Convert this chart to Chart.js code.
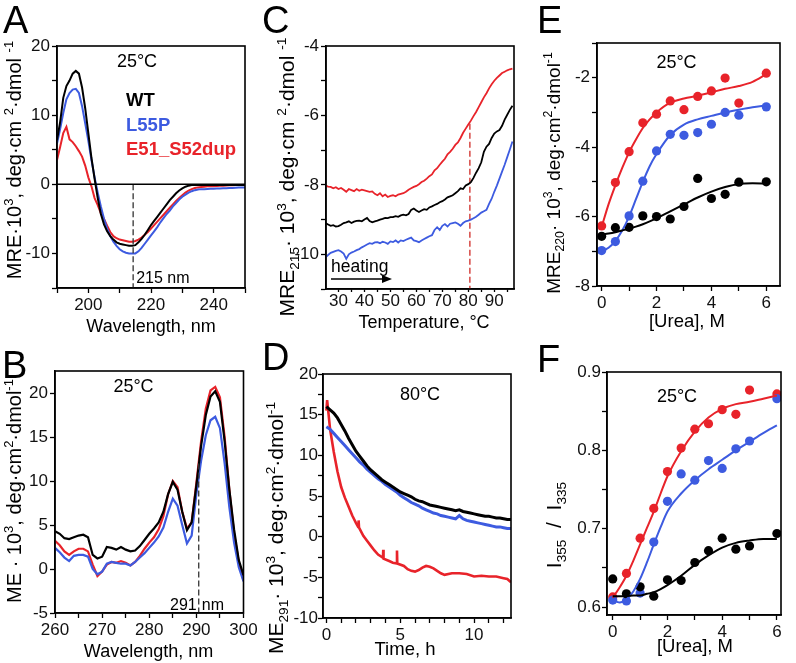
<!DOCTYPE html>
<html>
<head>
<meta charset="utf-8">
<script src="https://cdn.jsdelivr.net/npm/chart.js@4.4.0/dist/chart.umd.min.js"></script>
<style>
  html, body { margin: 0; padding: 0; background: #fff; }
  #wrap { position: relative; width: 796px; height: 663px; overflow: hidden; }
  #wrap canvas { position: absolute; left: 0; top: 0; }
</style>
</head>
<body>
<div id="wrap">
  <canvas id="cA" width="796" height="663"></canvas>
  <canvas id="cB" width="796" height="663"></canvas>
  <canvas id="cC" width="796" height="663"></canvas>
  <canvas id="cD" width="796" height="663"></canvas>
  <canvas id="cE" width="796" height="663"></canvas>
  <canvas id="cF" width="796" height="663"></canvas>
</div>
<script>
// ---- data ----

// A: far-UV CD, 190..250 nm, 1 nm step
var wlA = [];
for (var w = 190; w <= 250; w++) wlA.push(w);
var wtA = [6.4, 9.0, 12.5, 14.2, 15.0, 16.0, 16.4, 16.0, 14.0, 11.0,
  7.4, 3.8, 0.8, -2.0, -4.3, -5.8, -6.8, -7.5, -8.0, -8.4,
  -8.6, -8.7, -8.8, -8.9, -8.9, -8.8, -8.4, -7.9, -7.3, -6.6,
  -5.9, -5.3, -4.7, -4.1, -3.5, -2.9, -2.3, -1.8, -1.3, -0.9,
  -0.6, -0.35, -0.2, -0.1, -0.1, -0.1, -0.1, -0.1, -0.1, -0.1,
  -0.1, -0.1, -0.1, -0.1, -0.1, -0.1, -0.1, -0.1, -0.1, -0.1,
  -0.1];
var l55pA = [5.9, 8.0, 10.3, 12.3, 13.2, 13.7, 13.8, 13.2, 11.3, 8.8,
  6.3, 3.5, 1.0, -1.2, -3.2, -5.0, -6.4, -7.5, -8.3, -8.9,
  -9.4, -9.7, -9.9, -10.0, -10.0, -10.0, -9.7, -9.2, -8.6, -8.0,
  -7.4, -6.8, -6.2, -5.5, -4.9, -4.3, -3.8, -3.2, -2.7, -2.2,
  -1.8, -1.5, -1.2, -1.0, -0.85, -0.75, -0.7, -0.7, -0.68, -0.66,
  -0.64, -0.62, -0.6, -0.58, -0.56, -0.54, -0.52, -0.5, -0.48, -0.46,
  -0.45];
var dupA = [3.5, 5.4, 7.4, 8.3, 6.5, 6.1, 5.5, 4.8, 4.0, 2.7,
  1.0, -0.3, -2.0, -3.0, -4.2, -5.0, -6.0, -6.9, -7.5, -7.8,
  -8.0, -8.1, -8.2, -8.3, -8.3, -8.2, -8.0, -7.7, -7.3, -6.9,
  -6.4, -5.9, -5.4, -4.9, -4.4, -3.9, -3.4, -2.9, -2.4, -2.0,
  -1.6, -1.2, -0.9, -0.7, -0.55, -0.45, -0.4, -0.35, -0.3, -0.3,
  -0.28, -0.25, -0.22, -0.2, -0.18, -0.15, -0.14, -0.12, -0.1, -0.1,
  -0.1];
var markA = 214.3;

// B: near-UV CD, 260..300 nm
var wlB = [];
for (var w2 = 260; w2 <= 300; w2++) wlB.push(w2);
var wtB = [4.3, 4.0, 3.5, 3.4, 3.6, 3.8, 3.9, 3.6, 1.6, 1.2,
  1.4, 2.5, 2.4, 2.2, 2.5, 2.2, 2.0, 2.1, 2.6, 3.3,
  4.0, 4.6, 5.3, 6.5, 8.5, 9.9, 9.0, 6.5, 4.4, 5.3,
  9.5, 14.0, 17.5, 19.6, 20.2, 19.0, 14.5, 9.0, 4.5, 1.0,
  -0.7];
var dupB = [3.2, 2.7, 2.0, 1.6, 2.0, 2.3, 2.3, 2.0, 0.5, -0.8,
  -0.3, 0.5, 0.8, 0.7, 0.9, 0.7, 0.4, 0.8, 1.5, 2.3,
  3.0, 3.6, 4.5, 6.0, 8.5, 10.0, 9.3, 6.5, 4.6, 5.3,
  9.8, 14.5, 18.2, 20.3, 20.7, 19.5, 15.0, 9.0, 4.0, 0.8,
  -1.3];
var l55pB = [2.4, 1.9, 1.3, 0.9, 1.5, 1.6, 1.6, 1.4, 0.0, -0.6,
  -0.3, 0.6, 0.8, 0.7, 0.6, 0.6, 0.4, 0.8, 1.3, 1.8,
  2.4, 3.0, 3.7, 4.7, 6.5, 8.0, 7.2, 5.0, 2.9, 3.8,
  8.5, 12.3, 15.2, 16.9, 17.3, 16.0, 12.0, 7.0, 3.0, 0.2,
  -1.4];
var markB = 290.5;

// C: MRE at 215 nm vs temperature, 25..97 °C
var tC = [];
for (var t = 25; t <= 97; t++) tC.push(t);
var dupC = [-8.02, -8.05, -8.06, -8.10, -8.07, -8.12, -8.09, -8.14, -8.20, -8.12,
  -8.15, -8.18, -8.12, -8.17, -8.14, -8.16, -8.18, -8.20, -8.19, -8.26,
  -8.30, -8.24, -8.33, -8.28, -8.35, -8.32, -8.30, -8.33, -8.28, -8.26,
  -8.24, -8.20, -8.14, -8.10, -8.06, -8.03, -7.98, -7.92, -7.88, -7.82,
  -7.75, -7.70, -7.58, -7.52, -7.42, -7.33, -7.25, -7.12, -7.05, -6.96,
  -6.85, -6.78, -6.65, -6.50, -6.38, -6.26, -6.15, -6.02, -5.90, -5.76,
  -5.62, -5.48, -5.36, -5.22, -5.10, -5.00, -4.92, -4.85, -4.78, -4.74,
  -4.70, -4.67, -4.65];
var wtC = [-9.10, -9.14, -9.18, -9.16, -9.20, -9.19, -9.15, -9.10, -9.08, -9.05,
  -9.10, -9.06, -9.04, -9.03, -9.05, -9.00, -8.95, -9.04, -9.08, -9.05,
  -9.03, -9.00, -8.98, -8.95, -8.96, -8.93, -8.93, -8.90, -8.92, -8.88,
  -8.86, -8.88, -8.84, -8.72, -8.68, -8.74, -8.78, -8.74, -8.70, -8.72,
  -8.65, -8.62, -8.58, -8.55, -8.50, -8.47, -8.42, -8.36, -8.33, -8.30,
  -8.24, -8.18, -8.10, -8.12, -8.02, -7.98, -7.92, -7.80, -7.65, -7.52,
  -7.35, -7.05, -6.90, -6.82, -6.65, -6.52, -6.46, -6.42, -6.30, -6.12,
  -5.98, -5.84, -5.72];
var l55pC = [-10.09, -10.02, -9.96, -9.93, -9.90, -9.88, -9.92, -9.98, -10.13, -10.00,
  -9.95, -9.92, -9.88, -9.85, -9.80, -9.76, -9.72, -9.68, -9.70, -9.66,
  -9.65, -9.68, -9.64, -9.66, -9.70, -9.63, -9.65, -9.60, -9.66, -9.60,
  -9.62, -9.58, -9.55, -9.52, -9.60, -9.62, -9.65, -9.60, -9.56, -9.52,
  -9.48, -9.45, -9.30, -9.22, -9.30, -9.18, -9.13, -9.20, -9.12, -9.10,
  -9.08, -9.12, -9.18, -9.10, -9.05, -9.03, -9.00, -8.96, -8.92, -8.86,
  -8.80, -8.76, -8.72, -8.55, -8.40, -8.20, -8.02, -7.82, -7.62, -7.42,
  -7.20, -6.98, -6.75];
var markC = 80.6;

// D: ME at 291 nm vs time at 80 °C
var tD = [];
for (var h = 0; h <= 12.5; h += 0.25) tD.push(h);
var wtD = [16.0, 15.6, 15.2, 14.6, 13.8, 13.0, 12.1, 11.3, 10.5, 9.9,
  9.3, 8.7, 8.2, 7.8, 7.4, 7.0, 6.7, 6.4, 6.1, 5.8,
  5.5, 5.3, 5.1, 4.9, 4.6, 4.4, 4.3, 4.1, 3.9, 3.8,
  3.7, 3.6, 3.5, 3.4, 3.3, 3.2, 3.3, 3.1, 3.0, 2.9,
  2.8, 2.7, 2.6, 2.5, 2.5, 2.4, 2.3, 2.3, 2.2, 2.1,
  2.1];
var l55pD = [13.5, 13.2, 12.7, 12.2, 11.7, 11.2, 10.7, 10.2, 9.7, 9.2,
  8.8, 8.3, 7.9, 7.5, 7.1, 6.8, 6.4, 6.1, 5.8, 5.5,
  5.1, 4.8, 4.5, 4.2, 4.0, 3.8, 3.5, 3.3, 3.1, 2.9,
  2.8, 2.6, 2.5, 2.4, 2.3, 2.2, 2.6, 2.2, 2.0, 1.9,
  1.8, 1.7, 1.6, 1.5, 1.4, 1.3, 1.2, 1.2, 1.1, 1.0,
  1.0];
var tDupD = [0, 0.05, 0.15, 0.25, 0.5, 0.75, 1, 1.25, 1.5, 1.75,
  2, 2.15, 2.18, 2.21, 2.5, 2.75, 3, 3.25, 3.5, 3.75,
  3.83, 3.85, 3.87, 4.25, 4.5, 4.76, 4.78, 4.80, 5.25, 5.5, 5.75,
  6, 6.25, 6.5, 6.75, 7, 7.25, 7.5, 7.75, 8, 8.5,
  9, 9.5, 10, 10.5, 11, 11.5, 12, 12.25, 12.5];
var dupD = [15.5, 16.8, 15.0, 13.2, 10.4, 8.0, 6.1, 4.8, 3.7, 2.6,
  1.7, 1.2, 2.0, 1.1, 0.1, -0.5, -1.1, -1.7, -2.2, -2.5,
  -2.6, -1.6, -2.7, -3.0, -3.2, -3.3, -1.7, -3.3, -3.6, -4.0, -4.2,
  -4.3, -4.1, -3.8, -3.6, -3.7, -3.9, -4.2, -4.5, -4.7, -4.5,
  -4.5, -4.6, -4.9, -4.8, -4.9, -4.9, -5.1, -5.2, -5.6];

// E, F: urea titrations (points) and fitted curves
var urea = [0, 0.5, 1, 1.5, 2, 2.5, 3, 3.5, 4, 4.5, 5, 6];
var ureaFit = [0, 0.25, 0.5, 0.75, 1, 1.25, 1.5, 1.75, 2, 2.5, 3, 3.5, 4, 4.5, 5, 5.5, 6];
var dupE = [-6.27, -5.02, -4.13, -3.30, -3.05, -2.67, -2.92, -2.54, -2.38, -2.01, -2.73, -1.87];
var l55pE = [-6.98, -6.72, -5.98, -4.98, -4.11, -3.63, -3.66, -3.58, -3.34, -3.00, -3.08, -2.84];
var wtE = [-6.57, -6.32, -6.31, -5.98, -6.00, -6.07, -5.71, -4.90, -5.48, -5.36, -5.01, -5.00];
var dupEfit = [-6.3, -5.65, -5.1, -4.6, -4.15, -3.78, -3.45, -3.2, -3.0, -2.72, -2.6, -2.52, -2.42, -2.32, -2.24, -2.12, -1.9];
var l55pEfit = [-7.0, -6.9, -6.7, -6.4, -6.0, -5.5, -5.0, -4.55, -4.2, -3.65, -3.35, -3.2, -3.1, -3.0, -2.92, -2.85, -2.8];
var wtEfit = [-6.52, -6.49, -6.45, -6.4, -6.35, -6.29, -6.22, -6.14, -6.05, -5.85, -5.65, -5.45, -5.28, -5.15, -5.06, -5.04, -5.05];

var dupF = [0.613, 0.643, 0.688, 0.726, 0.773, 0.803, 0.827, 0.834, 0.852, 0.846, 0.877, 0.872];
var l55pF = [0.609, 0.608, 0.618, 0.683, 0.735, 0.770, 0.762, 0.787, 0.777, 0.802, 0.812, 0.866];
var wtF = [0.636, 0.617, 0.626, 0.614, 0.635, 0.634, 0.657, 0.672, 0.688, 0.674, 0.678, 0.694];
var dupFfit = [0.612, 0.625, 0.64, 0.659, 0.68, 0.701, 0.722, 0.745, 0.767, 0.799, 0.824, 0.842, 0.853, 0.859, 0.862, 0.866, 0.87];
var l55pFfit = [0.609, 0.606, 0.61, 0.62, 0.636, 0.657, 0.68, 0.702, 0.722, 0.745, 0.762, 0.776, 0.788, 0.8, 0.811, 0.822, 0.832];
var wtFfit = [0.614, 0.614, 0.614, 0.615, 0.615, 0.617, 0.619, 0.623, 0.628, 0.64, 0.654, 0.666, 0.676, 0.682, 0.685, 0.687, 0.687];

// ---- styling ----
var FONT = '"Liberation Sans", Arial, sans-serif';
var RED = '#e8232a', BLUE = '#3d5be0', BLACK = '#000';
var YW = 45, XH = 30;

function pts(xs, ys) {
  return ys.map(function(v, i) { return { x: xs[i], y: v }; });
}
function line(xs, ys, color, width, extra) {
  var d = { data: pts(xs, ys), showLine: true, borderColor: color, borderWidth: width || 2,
    pointRadius: 0, fill: false };
  for (var k in extra) d[k] = extra[k];
  return d;
}
function dots(xs, ys, color) {
  return { data: pts(xs, ys), showLine: false, pointRadius: 4.6, pointBackgroundColor: color,
    pointBorderWidth: 0, pointHoverRadius: 4.6 };
}
function fit(xs, ys, color) {
  return line(xs, ys, color, 2, { cubicInterpolationMode: 'monotone' });
}

function axis(a, which) {
  return {
    type: 'linear', min: a.min, max: a.max,
    grid: { drawOnChartArea: false, drawTicks: true, tickLength: a.tl || 5, tickWidth: 1.3, tickColor: '#000' },
    border: { display: true, color: '#000', width: 1.5 },
    afterBuildTicks: function(s) { s.ticks = a.ticks.map(function(v) { return { value: v }; }); },
    afterFit: function(s) { if (which === 'x') s.height = XH; else s.width = YW; },
    ticks: {
      autoSkip: false, maxRotation: 0, minRotation: 0, padding: a.pad === undefined ? 2 : a.pad,
      color: '#111', font: { family: FONT, size: 17 },
      callback: function(v) {
        for (var i = 0; i < a.labels.length; i++) {
          if (Math.abs(a.labels[i] - v) < 1e-6) return String(a.labels[i]);
        }
        return '';
      }
    }
  };
}

function txt(ctx, s, x, y, size, opt) {
  opt = opt || {};
  ctx.font = (opt.bold ? 'bold ' : '') + size + 'px ' + FONT;
  ctx.fillStyle = opt.color || '#000';
  ctx.textAlign = opt.align || 'left';
  ctx.textBaseline = 'alphabetic';
  ctx.fillText(s, x, y);
}

// rotated axis title with super/subscripts; bx = baseline x, cy = centre y
function vtitle(ctx, runs, bx, cy, size) {
  var small = size * 0.65, total = 0;
  ctx.save();
  ctx.translate(bx, cy);
  ctx.rotate(-Math.PI / 2);
  runs.forEach(function(r) {
    ctx.font = (r[1] ? small : size) + 'px ' + FONT;
    total += ctx.measureText(r[0]).width;
  });
  var x = -total / 2;
  ctx.fillStyle = '#000';
  ctx.textAlign = 'left';
  ctx.textBaseline = 'alphabetic';
  runs.forEach(function(r) {
    ctx.font = (r[1] ? small : size) + 'px ' + FONT;
    var dy = r[1] === 'sup' ? -size * 0.4 : (r[1] === 'sub' ? size * 0.22 : 0);
    ctx.fillText(r[0], x, dy);
    x += ctx.measureText(r[0]).width;
  });
  ctx.restore();
}

function frame(c) {
  var a = c.chartArea, ctx = c.ctx;
  ctx.save();
  ctx.strokeStyle = '#000';
  ctx.lineWidth = 1.6;
  ctx.strokeRect(a.left, a.top, a.right - a.left, a.bottom - a.top);
  ctx.restore();
}

function makePanel(id, o) {
  return new Chart(document.getElementById(id), {
    type: 'scatter',
    data: { datasets: o.datasets },
    options: {
      responsive: false, animation: false, devicePixelRatio: 1,
      events: [],
      layout: { padding: { left: o.box[0] - YW, top: o.box[2], right: 796 - o.box[1], bottom: 663 - o.box[3] - XH } },
      plugins: { legend: { display: false }, tooltip: { enabled: false } },
      scales: { x: axis(o.x, 'x'), y: axis(o.y, 'y') }
    },
    plugins: [{
      id: 'deco',
      afterDraw: function(c) { frame(c); o.deco(c.ctx, c); }
    }]
  });
}

// ---- panel A ----
makePanel('cA', {
  box: [57, 245, 46, 288],
  x: { min: 190, max: 250, ticks: [190, 200, 210, 220, 230, 240, 250], labels: [200, 220, 240] },
  y: { min: -15, max: 20, ticks: [-15, -10, -5, 0, 5, 10, 15, 20], labels: [-10, 0, 10, 20] },
  datasets: [
    line([190, 250], [0, 0], '#000', 1.5),
    line([markA, markA], [0, -15], '#333', 1.3, { borderDash: [6, 3] }),
    line(wlA, wtA, BLACK, 2),
    line(wlA, l55pA, BLUE, 2),
    line(wlA, dupA, RED, 2)
  ],
  deco: function(ctx, c) {
    txt(ctx, 'A', 3, 33, 38);
    txt(ctx, '25°C', 137, 67, 18, { align: 'center' });
    txt(ctx, 'WT', 126, 106, 18.5, { bold: true });
    txt(ctx, 'L55P', 126, 131, 18.5, { bold: true, color: BLUE });
    txt(ctx, 'E51_S52dup', 126, 155, 18.5, { bold: true, color: RED });
    txt(ctx, '215 nm', c.scales.x.getPixelForValue(markA) + 3, 283, 16);
    vtitle(ctx, [['MRE·10', ''], ['3', 'sup'], [', deg·cm ', ''], ['2', 'sup'], ['·dmol ', ''], ['-1', 'sup']], 21, 160, 20);
    txt(ctx, 'Wavelength, nm', 151, 332, 18, { align: 'center' });
  }
});

// ---- panel B ----
makePanel('cB', {
  box: [55, 243.5, 371, 613],
  x: { min: 260, max: 300, ticks: [260, 265, 270, 275, 280, 285, 290, 295, 300], labels: [260, 270, 280, 290, 300] },
  y: { min: -5, max: 22.5, ticks: [-5, 0, 5, 10, 15, 20], labels: [-5, 0, 5, 10, 15, 20] },
  datasets: [
    line([markB, markB], [12, -5], '#333', 1.3, { borderDash: [6, 3] }),
    line(wlB, wtB, BLACK, 2.2),
    line(wlB, l55pB, BLUE, 2.2),
    line(wlB, dupB, RED, 2.2)
  ],
  deco: function(ctx, c) {
    var mx = c.scales.x.getPixelForValue(markB);
    txt(ctx, 'B', 2, 378, 38);
    txt(ctx, '25°C', 133.5, 392, 18, { align: 'center' });
    txt(ctx, '291', mx - 2, 610, 16, { align: 'right' });
    txt(ctx, 'nm', mx + 3, 610, 16);
    vtitle(ctx, [['ME · 10', ''], ['3', 'sup'], [', deg·cm', ''], ['2', 'sup'], ['·dmol', ''], ['-1', 'sup']], 21, 491, 20);
    txt(ctx, 'Wavelength, nm', 148.5, 657, 18, { align: 'center' });
  }
});

// ---- panel C ----
makePanel('cC', {
  box: [326, 514, 46, 289],
  x: { min: 25.2, max: 97.6, ticks: [30, 35, 40, 45, 50, 55, 60, 65, 70, 75, 80, 85, 90, 95],
       labels: [30, 40, 50, 60, 70, 80, 90], tl: 3, pad: -1 },
  y: { min: -11, max: -4, ticks: [-11, -10, -9, -8, -7, -6, -5, -4], labels: [-10, -8, -6, -4] },
  datasets: [
    line(tC, dupC, RED, 1.8),
    line(tC, wtC, BLACK, 1.8),
    line(tC, l55pC, BLUE, 1.8),
    line([markC, markC], [-6.24, -11], '#d9534f', 1.6, { borderDash: [6, 3] })
  ],
  deco: function(ctx, c) {
    var a = c.chartArea;
    txt(ctx, 'C', 262, 33, 38);
    txt(ctx, 'heating', a.left + 5, 272, 17.5);
    ctx.save();
    ctx.strokeStyle = '#000';
    ctx.fillStyle = '#000';
    ctx.lineWidth = 1.3;
    ctx.beginPath();
    ctx.moveTo(a.left + 5, 279);
    ctx.lineTo(a.left + 58, 279);
    ctx.stroke();
    ctx.beginPath();
    ctx.moveTo(a.left + 66, 279);
    ctx.lineTo(a.left + 56, 275);
    ctx.lineTo(a.left + 56, 283);
    ctx.closePath();
    ctx.fill();
    ctx.restore();
    vtitle(ctx, [['MRE', ''], ['215', 'sub'], ['· 10', ''], ['3', 'sup'], [', deg·cm ', ''], ['2', 'sup'], ['·dmol ', ''], ['-1', 'sup']], 294, 177, 21);
    txt(ctx, 'Temperature, °C', 424, 327.5, 18, { align: 'center' });
  }
});

// ---- panel D ----
makePanel('cD', {
  box: [323, 511, 374, 618],
  x: { min: -0.23, max: 12.5, ticks: [0, 1, 2, 3, 4, 5, 6, 7, 8, 9, 10, 11, 12], labels: [0, 5, 10] },
  y: { min: -10, max: 20, ticks: [-10, -7.5, -5, -2.5, 0, 2.5, 5, 7.5, 10, 12.5, 15, 17.5, 20],
       labels: [-10, -5, 0, 5, 10, 15, 20], pad: 0 },
  datasets: [
    line(tD, wtD, BLACK, 3),
    line(tD, l55pD, BLUE, 3),
    line(tDupD, dupD, RED, 2.6)
  ],
  deco: function(ctx, c) {
    txt(ctx, 'D', 262, 370, 38);
    txt(ctx, '80°C', 420, 400, 18, { align: 'center' });
    vtitle(ctx, [['ME', ''], ['291', 'sub'], ['· 10', ''], ['3', 'sup'], [', deg·cm', ''], ['2', 'sup'], ['·dmol', ''], ['-1', 'sup']], 283, 528, 21);
    txt(ctx, 'Time, h', 405, 655, 18.5, { align: 'center' });
  }
});

// ---- panel E ----
makePanel('cE', {
  box: [597, 780, 43, 286],
  x: { min: -0.17, max: 6.5, ticks: [0, 1, 2, 3, 4, 5, 6], labels: [0, 2, 4, 6] },
  y: { min: -8, max: -1, ticks: [-8, -7, -6, -5, -4, -3, -2, -1], labels: [-8, -6, -4, -2] },
  datasets: [
    fit(ureaFit, wtEfit, BLACK),
    fit(ureaFit, l55pEfit, BLUE),
    fit(ureaFit, dupEfit, RED),
    dots(urea, wtE, BLACK),
    dots(urea, l55pE, BLUE),
    dots(urea, dupE, RED)
  ],
  deco: function(ctx, c) {
    txt(ctx, 'E', 537, 33, 38);
    txt(ctx, '25°C', 676.5, 68, 18, { align: 'center' });
    vtitle(ctx, [['MRE', ''], ['220', 'sub'], ['· 10', ''], ['3', 'sup'], [', deg·cm', ''], ['2', 'sup'], ['·dmol', ''], ['-1', 'sup']], 560, 173, 19);
    txt(ctx, '[Urea], M', 687, 327, 18.5, { align: 'center' });
  }
});

// ---- panel F ----
makePanel('cF', {
  box: [607, 781, 372, 615],
  x: { min: -0.21, max: 6.15, ticks: [0, 1, 2, 3, 4, 5, 6], labels: [0, 2, 4, 6] },
  y: { min: 0.59, max: 0.9, ticks: [0.6, 0.65, 0.7, 0.75, 0.8, 0.85, 0.9], labels: [0.6, 0.7, 0.8, 0.9], pad: 1 },
  datasets: [
    fit(ureaFit, wtFfit, BLACK),
    fit(ureaFit, l55pFfit, BLUE),
    fit(ureaFit, dupFfit, RED),
    dots(urea, wtF, BLACK),
    dots(urea, l55pF, BLUE),
    dots(urea, dupF, RED)
  ],
  deco: function(ctx, c) {
    txt(ctx, 'F', 537, 372, 38);
    txt(ctx, '25°C', 677, 402, 18, { align: 'center' });
    vtitle(ctx, [['I', ''], ['355', 'sub'], ['  /  I', ''], ['335', 'sub']], 561, 525, 21);
    txt(ctx, '[Urea], M', 695, 652, 18.5, { align: 'center' });
  }
});
</script>
</body>
</html>
